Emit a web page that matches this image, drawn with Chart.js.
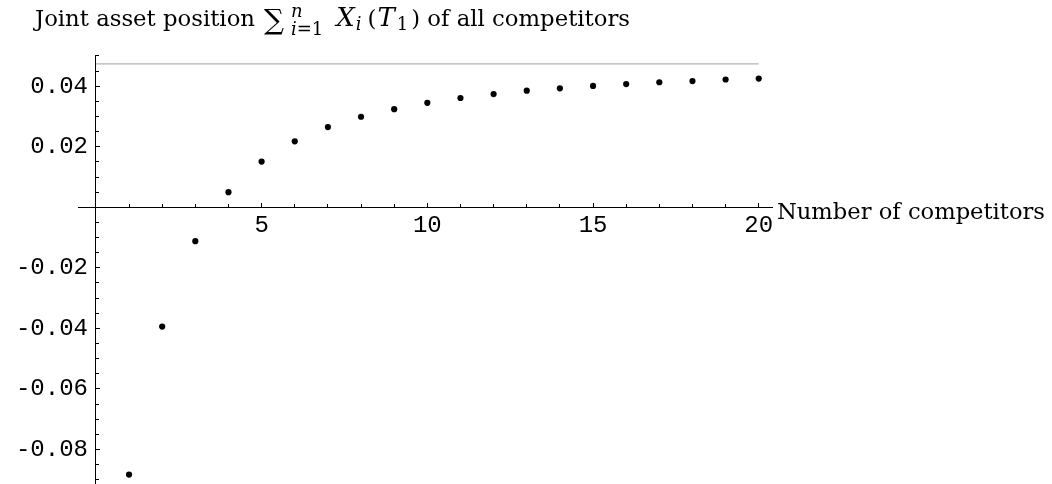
<!DOCTYPE html>
<html>
<head>
<meta charset="utf-8">
<script src="https://cdn.jsdelivr.net/npm/chart.js@4.4.1/dist/chart.umd.min.js"></script>
<style>
  html, body { margin: 0; padding: 0; background: #fff; overflow: hidden; }
  /* 4px taller than the window: chart.js keeps 4px under the plot area */
  #wrap { position: relative; width: 1052px; height: 488px; }
</style>
</head>
<body>
<div id="wrap"><canvas id="plot"></canvas></div>
<script>
// number of competitors n
const competitors = [1, 2, 3, 4, 5, 6, 7, 8, 9, 10, 11, 12, 13, 14, 15, 16, 17, 18, 19, 20];
// joint asset position sum X_i(T_1)
const jointAsset = [-0.0883, -0.0394, -0.0112, 0.0050, 0.0151, 0.0218, 0.0265, 0.0299, 0.0324, 0.0345,
                    0.0361, 0.0374, 0.0385, 0.0393, 0.0401, 0.0407, 0.0413, 0.0417, 0.0422, 0.0425];
// gray limit line
const limitX = [0, 20];
const limitY = [0.0474, 0.0474];
// tick labels
const xMajorTicks = [5, 10, 15, 20];
const yMajorTicks = [-0.08, -0.06, -0.04, -0.02, 0.02, 0.04];

const serif = '"DejaVu Serif", "Liberation Serif", serif';
const mono = '"Liberation Mono", "DejaVu Sans Mono", monospace';

//draws the title (with sum and subscripts) and the x axis label
const textPlugin = {
  id: 'mathText',
  afterDraw(chart) {
    const ctx = chart.ctx;
    ctx.save();
    ctx.fillStyle = '#000';
    ctx.textBaseline = 'alphabetic';
    ctx.textAlign = 'left';

    const base = 26;
    let x = 35;
    function run(t, size, dy, italic) {
      ctx.font = (italic ? 'italic ' : '') + size.toFixed(2) + 'px ' + serif;
      ctx.fillText(t, x, base + dy);
      return ctx.measureText(t).width;
    }
    // word size chosen so "Joint asset position" is as wide as in the original
    ctx.font = '22px ' + serif;
    const ws = 22 * 220 / ctx.measureText('Joint asset position').width;
    x += run('Joint asset position', ws, 0, false) + 9;
    x += run('\u2211', 28, 3, false) + 7;
    const sx = x;
    const wn = run('n', 18, -9, true);
    let wl = run('i', 18, 9, true);
    x += wl;
    wl += run('=1', 18, 9, false);
    x = sx + Math.max(wn, wl) + 13;
    x += run('X', 26, 0, true) + 1;
    x += run('i', 18, 4, true) + 6;
    x += run('(', ws, 0, false) + 1;
    x += run('T', 26, 0, true) + 2;
    x += run('1', 18, 4, false) + 3;
    x += run(')', ws, 0, false);
    run(' of all competitors', ws, 0, false);

    // x axis label at the right end of the axis
    const xs = chart.scales.x, ys = chart.scales.yAxis;
    ctx.font = '22px ' + serif;
    const lw = ctx.measureText('Number of competitors').width;
    ctx.font = (22 * 268 / lw).toFixed(2) + 'px ' + serif;
    ctx.fillText('Number of competitors', xs.right + 5, ys.getPixelForValue(0) + 12);
    ctx.restore();
  }
};

const dotData = competitors.map((n, i) => ({ x: n, y: jointAsset[i] }));
const lineData = limitX.map((v, i) => ({ x: v, y: limitY[i] }));

// axes cross at the origin, so no padding from the labels
const noPad = s => { s.paddingTop = 0; s.paddingBottom = 0; s.paddingLeft = 0; s.paddingRight = 0; };

const xMin = -0.54, xMax = 20.4, yMin = -0.0914, yMax = 0.0503;
const tickGrid = len => ({ drawOnChartArea: false, drawTicks: true, tickLength: len, tickColor: '#000', tickWidth: 1 });

new Chart(document.getElementById('plot'), {
  type: 'scatter',
  data: {
    datasets: [
      {
        data: lineData,
        showLine: true,
        borderColor: '#b4b4b4',
        borderWidth: 1.2,
        pointRadius: 0,
        yAxisID: 'yAxis',
        order: 2
      },
      {
        data: dotData,
        backgroundColor: '#000',
        borderColor: '#000',
        borderWidth: 0,
        pointRadius: 3.1,
        yAxisID: 'yAxis',
        order: 1
      }
    ]
  },
  options: {
    responsive: true,
    maintainAspectRatio: false,
    animation: false,
    layout: { padding: { left: 78, right: 280, top: 55, bottom: 0 } },
    plugins: { legend: { display: false }, tooltip: { enabled: false } },
    scales: {
      x: {
        type: 'linear', min: xMin, max: xMax, position: { yAxis: 0 },
        afterBuildTicks: s => { s.ticks = xMajorTicks.map(v => ({ value: v })); },
        afterFit: noPad,
        grid: tickGrid(-5),
        border: { display: true, color: '#000', width: 1 },
        ticks: { font: { family: mono, size: 24 }, color: '#000', padding: 9, maxRotation: 0, autoSkip: false,
                 callback: v => String(v) }
      },
      xMinor: {
        type: 'linear', axis: 'x', min: xMin, max: xMax, position: { yAxis: 0 },
        afterBuildTicks: s => { s.ticks = competitors.map(v => ({ value: v })); },
        afterFit: noPad,
        grid: tickGrid(-3),
        border: { display: false },
        ticks: { autoSkip: false, callback: () => '' }
      },
      // the y axis line and its ticks at x = 0
      yAxis: {
        type: 'linear', axis: 'y', min: yMin, max: yMax, position: { x: 0 },
        afterBuildTicks: s => { s.ticks = yMajorTicks.map(v => ({ value: v })); },
        afterFit: noPad,
        grid: tickGrid(-5),
        border: { display: true, color: '#000', width: 1 },
        ticks: { autoSkip: false, callback: () => '' }
      },
      yMinor: {
        type: 'linear', axis: 'y', min: yMin, max: yMax, position: { x: 0 },
        afterFit: noPad,
        ticks: { stepSize: 0.005, includeBounds: false, autoSkip: false, callback: () => '' },
        grid: tickGrid(-3),
        border: { display: false }
      },
      // y tick labels, set a little left of the axis line
      yLabels: {
        type: 'linear', axis: 'y', min: yMin, max: yMax, position: { x: -0.24 },
        afterBuildTicks: s => { s.ticks = yMajorTicks.map(v => ({ value: v })); },
        afterFit: noPad,
        grid: { drawOnChartArea: false, drawTicks: false },
        border: { display: false },
        ticks: { font: { family: mono, size: 24 }, color: '#000', autoSkip: false,
                 callback: v => v.toFixed(2) }
      }
    }
  },
  plugins: [textPlugin]
});
</script>
</body>
</html>
